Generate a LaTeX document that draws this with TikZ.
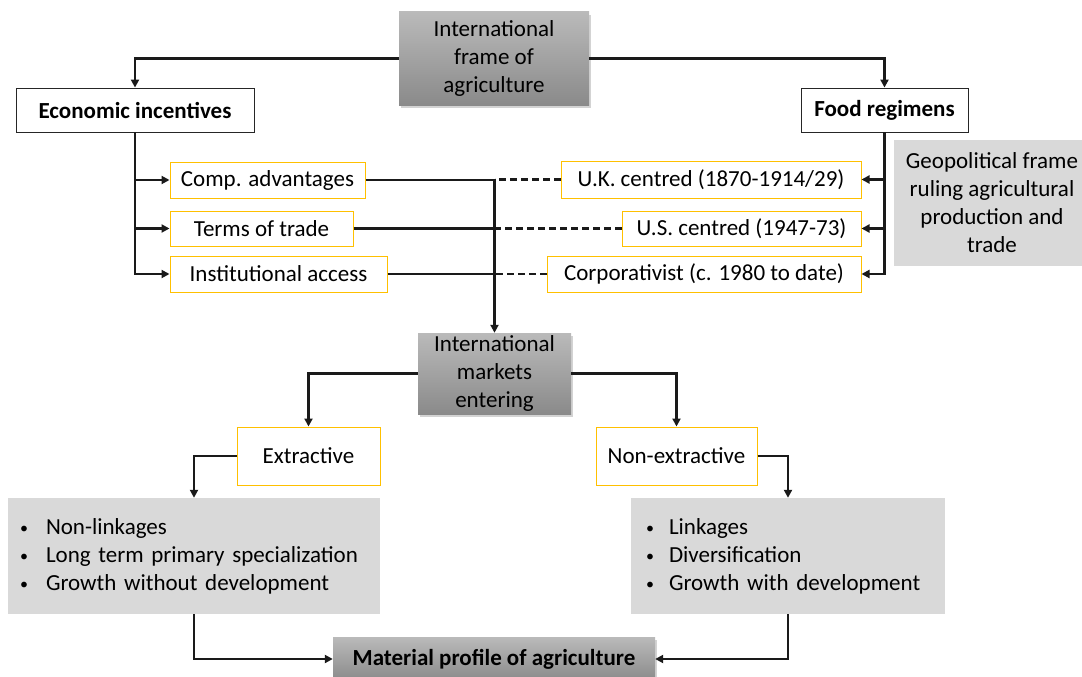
\documentclass[tikz,border=0pt]{standalone}
\usepackage{fontspec}
\setmainfont{Carlito}
\usepackage{tikz}
\usetikzlibrary{arrows.meta,positioning,shadows}
\definecolor{ybord}{HTML}{FFC000}
\definecolor{gtop}{HTML}{BABABA}
\definecolor{gbot}{HTML}{8A8A8A}
\definecolor{lgray}{HTML}{D9D9D9}
\definecolor{ink}{HTML}{1A1A1A}
\newcommand{\blt}[1]{\makebox[#1][l]{\raisebox{1pt}{\fontsize{16}{16}\selectfont\textbullet}}}

\begin{document}
\begin{tikzpicture}[x=1pt, y=-1pt,
  font=\fontsize{23}{28}\selectfont,
  gbox/.style={top color=gtop, bottom color=gbot, align=center, inner sep=0pt,
               drop shadow={opacity=0.35, shadow xshift=2pt, shadow yshift=-3pt}},
  wbox/.style={draw=black!85, line width=0.9pt, fill=white, inner sep=0pt, font=\fontsize{23}{28}\selectfont\bfseries},
  ybox/.style={draw=ybord, line width=1pt, fill=white, inner sep=0pt},
  lbox/.style={fill=lgray, align=left, inner ysep=0pt},
  arr/.style={-{Triangle[length=8pt,width=8pt]}, line width=2.2pt, ink},
  ln/.style={line width=2.2pt, ink},
  dsh/.style={line width=2.2pt, ink, dash pattern=on 7pt off 4pt}]
  \useasboundingbox (0,0) rectangle (1082,677);
  \node[gbox, minimum width=190pt, minimum height=93pt] (frame) at (494,58.5) {International\\frame of\\agriculture};
  \node[wbox, minimum width=238pt, minimum height=44pt] (econ) at (135,110) {Economic incentives};
  \node[wbox, minimum width=167pt, minimum height=44pt] (food) at (884.5,110) {Food regimens};
  \node[ybox, minimum width=195pt, minimum height=36pt] (comp) at (267.5,180) {Comp. advantages};
  \node[ybox, minimum width=183pt, minimum height=35pt] (terms) at (261.5,228.5) {Terms of trade};
  \node[ybox, minimum width=217pt, minimum height=36pt] (inst) at (278.5,274) {Institutional access};
  \node[ybox, minimum width=300pt, minimum height=37pt] (uk) at (711,179.5) {U.K. centred (1870-1914/29)};
  \node[ybox, minimum width=239pt, minimum height=35pt] (us) at (741.5,228.5) {U.S. centred (1947-73)};
  \node[ybox, minimum width=314pt, minimum height=36pt] (corp) at (704,274) {Corporativist (c. 1980 to date)};
  \node[fill=lgray, align=center, minimum width=196pt, minimum height=126pt, inner sep=0pt] (geo) at (992,203)
    {Geopolitical frame\\ruling agricultural\\production and\\trade};
  \node[gbox, minimum width=153pt, minimum height=81pt] (markets) at (494.5,373.5) {International\\markets\\entering};
  \node[ybox, minimum width=143pt, minimum height=58pt] (extr) at (308.5,456) {Extractive};
  \node[ybox, minimum width=161pt, minimum height=58pt] (nonex) at (676.5,456) {Non-extractive};
  \node[lbox, inner xsep=12pt, text width=348pt, minimum height=116pt] (leftlist) at (194,556)
    {\blt{26pt}Non-linkages\\
     \blt{26pt}Long term primary specialization\\
     \blt{26pt}Growth without development};
  \node[lbox, inner xsep=15pt, text width=284pt, minimum height=116pt] (rightlist) at (788,556)
    {\blt{23pt}Linkages\\
     \blt{23pt}Diversification\\
     \blt{23pt}Growth with development};
  \node[gbox, minimum width=322pt, minimum height=44pt, font=\fontsize{23}{28}\selectfont\bfseries] (material) at (494,659)
    {Material profile of agriculture};
  \draw[arr] (frame.west) -| (econ.north);
  \draw[arr] (frame.east) -| (food.north);
  \draw[arr] (econ.south) |- (comp.west);
  \draw[arr] (econ.south) |- (terms.west);
  \draw[arr] (econ.south) |- (inst.west);
  \draw[arr] (food.south) |- (uk.east);
  \draw[arr] (food.south) |- (us.east);
  \draw[arr] (food.south) |- (corp.east);
  \draw[dsh] (uk.west) -- (uk.west -| markets.north);
  \draw[dsh] (us.west) -- (us.west -| markets.north);
  \draw[dsh] (corp.west) -- (corp.west -| markets.north);
  \draw[ln] (terms.east) -- (terms.east -| markets.north);
  \draw[ln] (inst.east) -- (inst.east -| markets.north);
  \draw[arr] (comp.east) -| (markets.north);
  \draw[arr] (markets.west) -| (extr.north);
  \draw[arr] (markets.east) -| (nonex.north);
  \draw[arr] (extr.west) -| (leftlist.north);
  \draw[arr] (nonex.east) -| (rightlist.north);
  \draw[arr] (leftlist.south) |- (material.west);
  \draw[arr] (rightlist.south) |- (material.east);
\end{tikzpicture}
\end{document}
